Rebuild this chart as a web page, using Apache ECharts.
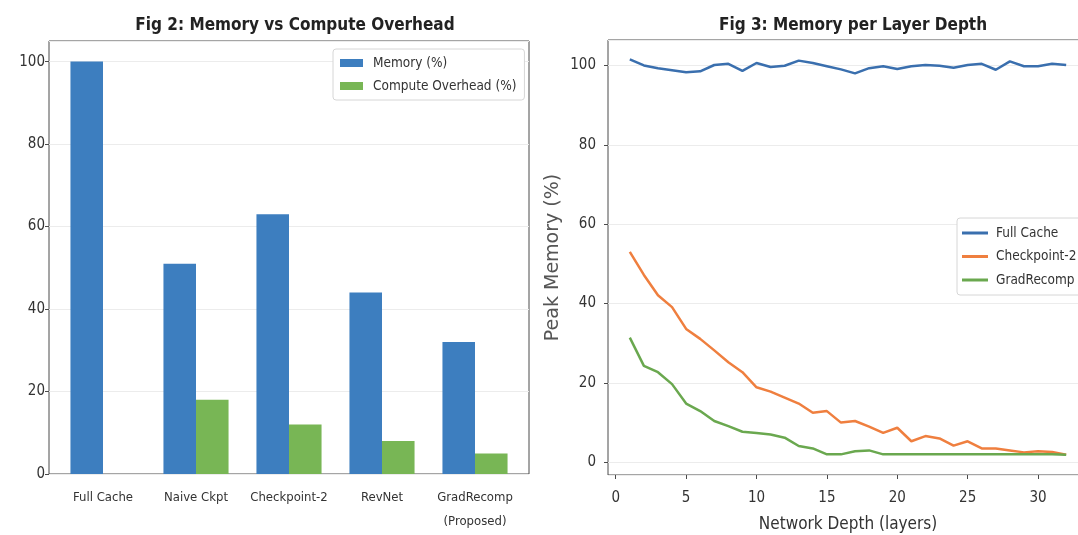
<!DOCTYPE html>
<html>
<head>
<meta charset="utf-8">
<script src="https://cdn.jsdelivr.net/npm/echarts@6/dist/echarts.min.js"></script>
<style>
  html, body { margin: 0; padding: 0; background: #fff; }
  #chart { width: 1078px; height: 535px; }
</style>
</head>
<body>
<div id="chart"></div>
<script>
// Fig 2 data
const methods = ['Full Cache', 'Naive Ckpt', 'Checkpoint-2', 'RevNet', 'GradRecomp\n(Proposed)']
const memoryPct = [100, 51, 63, 44, 32]
const computePct = [0, 18, 12, 8, 5]

// Fig 3 data
const depth = [1, 2, 3, 4, 5, 6, 7, 8, 9, 10, 11, 12, 13, 14, 15, 16,
  17, 18, 19, 20, 21, 22, 23, 24, 25, 26, 27, 28, 29, 30, 31, 32]
const fullCache = [101.5, 100.0, 99.3, 98.8, 98.3, 98.5, 100.1, 100.4, 98.6, 100.6, 99.6, 99.9, 101.2, 100.6, 99.8, 99.0,
  98.0, 99.3, 99.8, 99.1, 99.8, 100.1, 99.9, 99.4, 100.1, 100.4, 98.9, 101.0, 99.8, 99.8, 100.4, 100.1]
const checkpoint2 = [53.0, 47.2, 42.1, 39.1, 33.6, 31.1, 28.2, 25.2, 22.7, 18.9, 17.8, 16.3, 14.8, 12.5, 12.9, 10.0,
  10.4, 9.0, 7.4, 8.7, 5.3, 6.6, 6.0, 4.2, 5.3, 3.5, 3.5, 3.0, 2.5, 2.8, 2.6, 1.9]
const gradRecomp = [31.4, 24.3, 22.7, 19.7, 14.8, 12.9, 10.4, 9.1, 7.7, 7.4, 7.0, 6.2, 4.1, 3.5, 2.0, 2.0,
  2.8, 3.0, 2.0, 2.0, 2.0, 2.0, 2.0, 2.0, 2.0, 2.0, 2.0, 2.0, 2.0, 2.0, 2.0, 1.9]

const narrow = '"DejaVu Sans Condensed", "DejaVu Sans", sans-serif'
const ink = '#333'
const spine = '#4a4a4a'
const gridLine = '#ececec'

const chart = echarts.init(document.getElementById('chart'))

const pairs = arr => depth.map((d, i) => [d, arr[i]])

const option = {
  animation: false,
  textStyle: { fontFamily: narrow },
  title: [
    {
      text: 'Fig 2: Memory vs Compute Overhead',
      left: 290, top: 12, textAlign: 'center',
      textStyle: { fontFamily: narrow, fontWeight: 'bold', fontSize: 17, color: '#222' }
    },
    {
      text: 'Fig 3: Memory per Layer Depth',
      left: 848, top: 12, textAlign: 'center',
      textStyle: { fontFamily: narrow, fontWeight: 'bold', fontSize: 17, color: '#222' }
    }
  ],
  legend: [
    {
      data: ['Memory (%)', 'Compute Overhead (%)'],
      orient: 'vertical',
      left: 333, top: 49,
      itemWidth: 23, itemHeight: 8, itemGap: 9,
      icon: 'rect',
      padding: [7, 8, 7, 7],
      backgroundColor: '#fff',
      borderColor: '#d6d6d6', borderWidth: 1, borderRadius: 3,
      textStyle: { fontFamily: narrow, fontSize: 13.5, color: ink, padding: [0, 0, 0, 5] }
    },
    {
      data: ['Full Cache', 'Checkpoint-2', 'GradRecomp'],
      orient: 'vertical',
      left: 957, top: 218,
      itemWidth: 26, itemHeight: 3, itemGap: 9.5,
      icon: 'rect',
      padding: [8, 8, 8, 5],
      backgroundColor: '#fff',
      borderColor: '#d6d6d6', borderWidth: 1, borderRadius: 3,
      textStyle: { fontFamily: narrow, fontSize: 13.5, color: ink, padding: [0, 0, 0, 3] }
    }
  ],
  grid: [
    // bars
    { left: 56.5, right: 556.5, top: 41, bottom: 61, outerBoundsMode: 'none' },
    // frame of Fig 2
    { left: 49, right: 549, top: 41, bottom: 61, show: true, borderColor: spine, borderWidth: 1, z: 0, outerBoundsMode: 'none' },
    // Fig 3
    { left: 608, right: -10, top: 40, bottom: 60, show: true, borderColor: spine, borderWidth: 1, outerBoundsMode: 'none' }
  ],
  xAxis: [
    {
      gridIndex: 0, type: 'category', data: methods,
      axisLine: { show: false },
      axisTick: { alignWithLabel: true, length: 4, lineStyle: { color: spine } },
      axisLabel: { interval: 0, color: ink, fontSize: 13, margin: 12, lineHeight: 24, fontFamily: narrow }
    },
    { gridIndex: 1, type: 'value', show: false },
    {
      gridIndex: 2, type: 'value', min: -0.55, max: 33.55, splitNumber: 7,
      axisLine: { show: false, onZero: false },
      axisTick: { length: 4, lineStyle: { color: spine } },
      axisLabel: { color: ink, fontSize: 15, margin: 16, showMinLabel: false, showMaxLabel: false, fontFamily: narrow },
      splitLine: { show: false },
      name: 'Network Depth (layers)', nameLocation: 'middle', nameGap: 41,
      nameTextStyle: { color: ink, fontSize: 17, fontFamily: narrow }
    }
  ],
  yAxis: [
    {
      gridIndex: 0, type: 'value', min: 0, max: 105, splitNumber: 5,
      axisLine: { show: false }, axisTick: { show: false }, axisLabel: { show: false },
      splitLine: { show: false }
    },
    {
      gridIndex: 1, type: 'value', min: 0, max: 105, splitNumber: 5,
      axisLine: { show: false, onZero: false },
      axisTick: { show: true, length: 4, lineStyle: { color: spine } },
      axisLabel: { color: ink, fontSize: 15, margin: 4, showMaxLabel: false, fontFamily: narrow },
      splitLine: { lineStyle: { color: gridLine } }
    },
    {
      gridIndex: 2, type: 'value', min: -3.2, max: 106.4, splitNumber: 5,
      axisLine: { show: false, onZero: false },
      axisTick: { show: true, length: 4, lineStyle: { color: spine } },
      axisLabel: { color: ink, fontSize: 15, margin: 12, showMinLabel: false, showMaxLabel: false, fontFamily: narrow },
      splitLine: { lineStyle: { color: gridLine } },
      name: 'Peak Memory (%)', nameLocation: 'middle', nameGap: 45,
      nameTextStyle: { color: '#555', fontSize: 19, fontFamily: '"DejaVu Sans", sans-serif' }
    }
  ],
  series: [
    {
      name: 'Memory (%)', type: 'bar', xAxisIndex: 0, yAxisIndex: 0,
      data: memoryPct, barWidth: '35%', barGap: '0%',
      itemStyle: { color: '#3d7ebf' }
    },
    {
      name: 'Compute Overhead (%)', type: 'bar', xAxisIndex: 0, yAxisIndex: 0,
      data: computePct, barWidth: '35%', barGap: '0%',
      itemStyle: { color: '#78b655' }
    },
    {
      name: 'Full Cache', type: 'line', xAxisIndex: 2, yAxisIndex: 2,
      data: pairs(fullCache), showSymbol: false,
      lineStyle: { color: '#3a6fae', width: 2.5 }, itemStyle: { color: '#3a6fae' }
    },
    {
      name: 'Checkpoint-2', type: 'line', xAxisIndex: 2, yAxisIndex: 2,
      data: pairs(checkpoint2), showSymbol: false,
      lineStyle: { color: '#ef7f3f', width: 2.5 }, itemStyle: { color: '#ef7f3f' }
    },
    {
      name: 'GradRecomp', type: 'line', xAxisIndex: 2, yAxisIndex: 2,
      data: pairs(gradRecomp), showSymbol: false,
      lineStyle: { color: '#6aa84f', width: 2.5 }, itemStyle: { color: '#6aa84f' }
    }
  ]
}

chart.setOption(option)
</script>
</body>
</html>
